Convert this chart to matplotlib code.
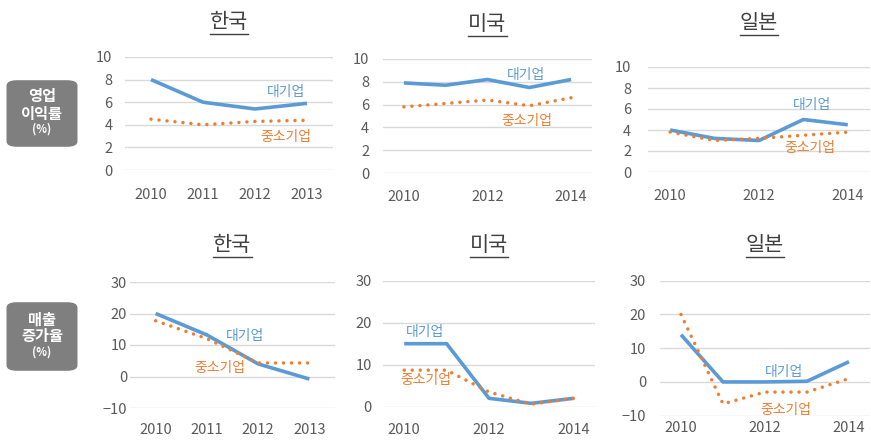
import matplotlib
matplotlib.use("Agg")
import matplotlib.pyplot as plt
from matplotlib.lines import Line2D
from matplotlib.patches import FancyBboxPatch

plt.rcParams["font.family"] = ["Noto Sans CJK KR", "DejaVu Sans"]

BLUE = "#5B9BD5"
ORANGE = "#ED7D31"
GRAY = "#595959"

# 영업이익률 (%)
kr_years_top = ["2010", "2011", "2012", "2013"]
kr_large_top = [8.0, 6.0, 5.4, 5.9]
kr_small_top = [4.5, 4.0, 4.3, 4.4]

us_years = ["2010", "2011", "2012", "2013", "2014"]
us_large_top = [7.9, 7.7, 8.2, 7.5, 8.2]
us_small_top = [5.8, 6.1, 6.4, 5.9, 6.6]

jp_years = ["2010", "2011", "2012", "2013", "2014"]
jp_large_top = [4.0, 3.2, 3.0, 5.0, 4.5]
jp_small_top = [3.8, 3.0, 3.2, 3.5, 3.8]

# 매출증가율 (%)
kr_years_bot = ["2010", "2011", "2012", "2013"]
kr_large_bot = [20.0, 13.2, 4.0, -0.8]
kr_small_bot = [17.7, 12.0, 4.3, 4.3]

us_large_bot = [15.0, 15.0, 2.0, 0.8, 2.0]
us_small_bot = [8.7, 8.7, 3.5, 0.6, 2.0]

jp_large_bot = [14.0, 0.0, 0.0, 0.2, 6.0]
jp_small_bot = [20.0, -6.5, -3.0, -3.0, 1.0]

W, H = 871, 447


def rect(x0, x1, ytop, ybot):
    return [x0 / W, 1 - ybot / H, (x1 - x0) / W, (ybot - ytop) / H]


panels = [
    dict(r=rect(125, 333, 57, 170), title="한국", years=kr_years_top, large=kr_large_top,
         small=kr_small_top, ylim=(0, 10), yticks=[0, 2, 4, 6, 8, 10], show=[0, 1, 2, 3],
         xpad=13, ypad=9, lpos=(2.6, 6.9), spos=(2.6, 2.9), ty=22),
    dict(r=rect(383, 592, 59, 173), title="미국", years=us_years, large=us_large_top,
         small=us_small_top, ylim=(0, 10), yticks=[0, 2, 4, 6, 8, 10], show=[0, 2, 4],
         xpad=12, ypad=10, lpos=(2.93, 8.6), spos=(2.93, 4.6), ty=24),
    dict(r=rect(648, 870, 67, 172), title="일본", years=jp_years, large=jp_large_top,
         small=jp_small_top, ylim=(0, 10), yticks=[0, 2, 4, 6, 8, 10], show=[0, 2, 4],
         xpad=12, ypad=12, lpos=(3.2, 6.4), spos=(3.15, 2.3), ty=23),
    dict(r=rect(130, 335, 282, 408), title="한국", years=kr_years_bot, large=kr_large_bot,
         small=kr_small_bot, ylim=(-10, 30), yticks=[-10, 0, 10, 20, 30], show=[0, 1, 2, 3],
         xpad=11, ypad=2, lpos=(1.74, 12.9), spos=(1.26, 2.7), ty=245),
    dict(r=rect(383, 595, 280.7, 406.7), title="미국", years=us_years, large=us_large_bot,
         small=us_small_bot, ylim=(0, 30), yticks=[0, 10, 20, 30], show=[0, 2, 4],
         xpad=12, ypad=8, lpos=(0.48, 17.8), spos=(0.5, 6.4), ty=245),
    dict(r=rect(660, 870, 280.7, 415.7), title="일본", years=jp_years, large=jp_large_bot,
         small=jp_small_bot, ylim=(-10, 30), yticks=[-10, 0, 10, 20, 30], show=[0, 2, 4],
         xpad=4, ypad=10, lpos=(2.46, 2.9), spos=(2.5, -8.4), ty=245),
]

fig = plt.figure(figsize=(W / 100, H / 100), dpi=100)

titles = []
for p in panels:
    ax = fig.add_axes(p["r"])
    n = len(p["years"])
    x = list(range(n))
    ax.plot(x, p["large"], color=BLUE, lw=2.6, solid_capstyle="butt", clip_on=False, zorder=3)
    ax.plot(x, p["small"], color=ORANGE, lw=2.5, linestyle=(0, (0.01, 2.3)),
            dash_capstyle="round", clip_on=False, zorder=3)
    ax.set_xlim(-0.5, n - 0.5)
    ax.set_ylim(*p["ylim"])
    ax.set_yticks(p["yticks"])
    ax.set_xticks(p["show"])
    ax.set_xticklabels([p["years"][i] for i in p["show"]])
    for s in ax.spines.values():
        s.set_visible(False)
    ax.grid(axis="y", color="#D9D9D9", lw=1)
    ax.set_axisbelow(True)
    ax.tick_params(length=0, labelsize=10.5, labelcolor=GRAY)
    ax.tick_params(axis="x", pad=p["xpad"])
    ax.tick_params(axis="y", pad=p["ypad"])
    ax.text(*p["lpos"], "대기업", color=BLUE, fontsize=10, ha="center", va="center")
    ax.text(*p["spos"], "중소기업", color=ORANGE, fontsize=10, ha="center", va="center")
    cx = (p["r"][0] + p["r"][2] / 2)
    t = fig.text(cx, 1 - p["ty"] / H, p["title"], fontsize=15, color="#404040",
                 ha="center", va="center")
    titles.append(t)

# row labels in grey rounded boxes
for (y0, y1), lbl in [((80, 147), "영업\n이익률\n(%)"), ((302, 371), "매출\n증가율\n(%)")]:
    box = FancyBboxPatch((10 / W, 1 - (y1 - 2) / H), 64 / W, (y1 - y0 - 4) / H,
                         boxstyle="round,pad=0.004,rounding_size=0.012",
                         transform=fig.transFigure, facecolor="#7F7F7F",
                         edgecolor="none")
    fig.add_artist(box)
    parts = lbl.split("\n")
    yc = 1 - (y0 + y1) / 2 / H
    fig.text(42 / W, yc + 17 / H, parts[0], color="white", fontsize=11, fontweight="bold",
             ha="center", va="center")
    fig.text(42 / W, yc + 0 / H, parts[1], color="white", fontsize=11, fontweight="bold",
             ha="center", va="center")
    fig.text(42 / W, yc - 16 / H, parts[2], color="white", fontsize=8, fontweight="bold",
             ha="center", va="center")

# underline the titles
fig.canvas.draw()
renderer = fig.canvas.get_renderer()
for t in titles:
    bb = t.get_window_extent(renderer)
    yline = bb.y0 - 1
    fig.add_artist(Line2D([bb.x0 / W, bb.x1 / W], [yline / H, yline / H],
                          transform=fig.transFigure, color="#404040", lw=1))

fig.savefig("out.png", dpi=100)
